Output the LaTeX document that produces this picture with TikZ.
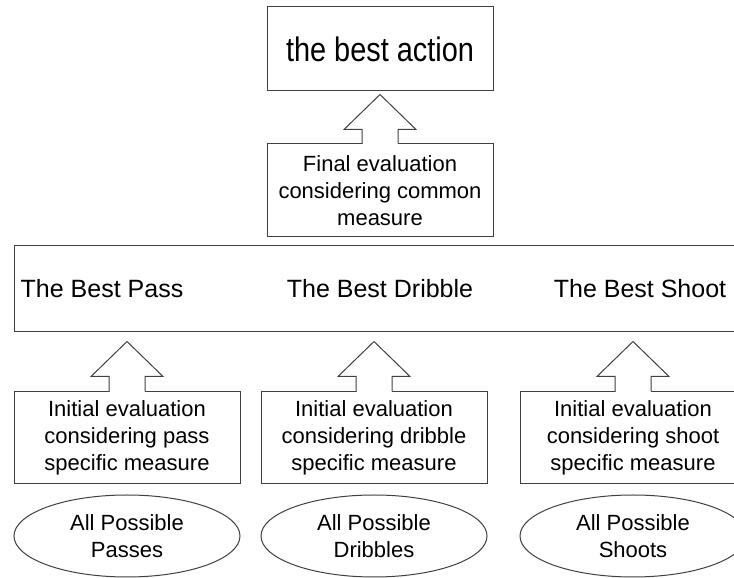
\documentclass[tikz,border=0pt]{standalone}
\usepackage{graphicx}
\usepackage{fontspec}
\setmainfont{Liberation Sans}
\usetikzlibrary{shapes.geometric,calc}
\tikzset{
  frame/.style={draw=black!75,line width=1pt},
  box/.style={frame,rectangle,inner sep=0pt,align=center,fill=white},
  oval/.style={frame,ellipse,inner sep=0pt,align=center,minimum width=226pt,minimum height=82pt},
  bigtxt/.style={font=\fontsize{34}{40}\selectfont},
  midtxt/.style={font=\fontsize{25}{30}\selectfont},
  smalltxt/.style={font=\fontsize{22}{27}\selectfont},
}
\newcommand{\blockup}[2]{%
  \fill[white] let \p1=(#1) in (\x1-17.5pt,\y1-1.2pt) rectangle (\x1+17.5pt,\y1+1pt);
  \draw[frame,fill=white,line join=miter] let \p1=(#1), \p2=(#2) in
    (\x1-18pt,\y1) -- (\x1-18pt,\y2-35pt) -- (\x1-36pt,\y2-35pt) -- (\x2,\y2)
    -- (\x1+36pt,\y2-35pt) -- (\x1+18pt,\y2-35pt) -- (\x1+18pt,\y1);
}
\begin{document}
\begin{tikzpicture}[x=1pt,y=1pt]
\useasboundingbox[fill=white] (0,0) rectangle (734,578);
% top
\node[box,bigtxt,minimum width=226pt,minimum height=84pt] (best) at (380,529) {\scalebox{0.85}[1]{the best action}};
\node[box,smalltxt,minimum width=226pt,minimum height=93pt] (final) at (380,387.5)
  {Final evaluation\\considering common\\measure};
% wide box
\node[box,minimum width=746pt,minimum height=86pt] (wide) at (387,289) {};
\node[midtxt,inner sep=0pt] (bpass) at (102,289) {The Best Pass};
\node[midtxt,inner sep=0pt] (bdrib) at (380,289) {The Best Dribble};
\node[midtxt,inner sep=0pt] (bshoot) at (640,289) {The Best Shoot};
% initial evaluations
\node[box,smalltxt,minimum width=226pt,minimum height=92pt] (init1) at (127,140)
  {Initial evaluation\\considering pass\\specific measure};
\node[box,smalltxt,minimum width=226pt,minimum height=92pt] (init2) at (374,140)
  {Initial evaluation\\considering dribble\\specific measure};
\node[box,smalltxt,minimum width=226pt,minimum height=92pt] (init3) at (633,140)
  {Initial evaluation\\considering shoot\\specific measure};
% ellipses
\node[oval,smalltxt] (all1) at (127,42) {All Possible\\Passes};
\node[oval,smalltxt] (all2) at (374,42) {All Possible\\Dribbles};
\node[oval,smalltxt] (all3) at (633,42) {All Possible\\Shoots};
% arrow tips
\coordinate (tip0) at ($(best.south)+(0,-3)$);
\coordinate (tip1) at ($(wide.south -| init1.north)+(0,-9)$);
\coordinate (tip2) at ($(wide.south -| init2.north)+(0,-9)$);
\coordinate (tip3) at ($(wide.south -| init3.north)+(0,-9)$);
\blockup{final.north}{tip0}
\blockup{init1.north}{tip1}
\blockup{init2.north}{tip2}
\blockup{init3.north}{tip3}
\end{tikzpicture}
\end{document}
